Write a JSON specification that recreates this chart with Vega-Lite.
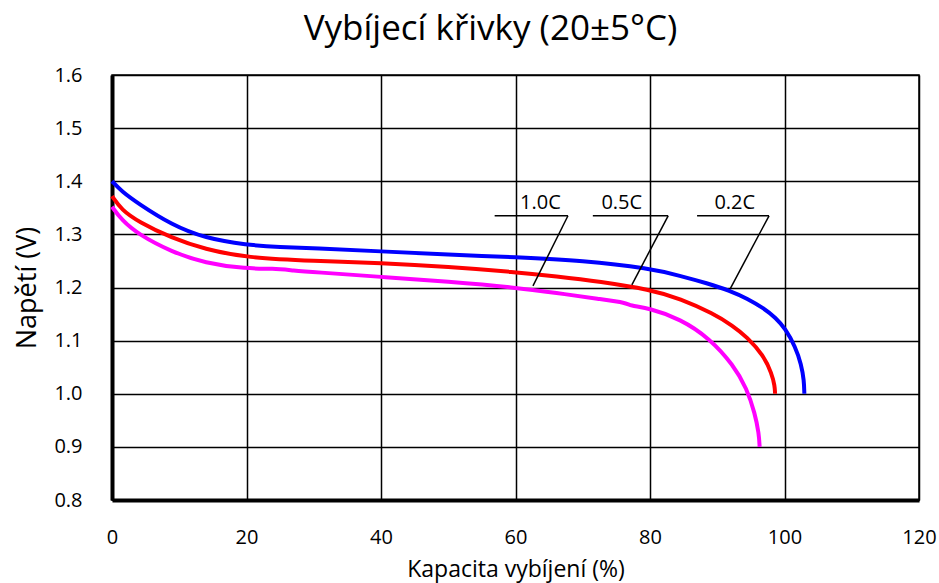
{
  "$schema": "https://vega.github.io/schema/vega-lite/v6.json",
  "width": 807,
  "height": 425,
  "autosize": {"type": "none"},
  "padding": {"left": 112, "top": 75, "right": 20, "bottom": 83},
  "background": "white",
  "title": {
    "text": "Vybíjecí křivky (20±5°C)",
    "font": "Open Sans",
    "fontSize": 35,
    "fontWeight": "normal",
    "color": "#000",
    "anchor": "middle",
    "dx": -25,
    "offset": 18
  },
  "config": {
    "view": {"stroke": "#000", "strokeWidth": 1.5},
    "axis": {
      "labelFont": "Open Sans",
      "titleFont": "Open Sans",
      "labelFontSize": 20,
      "titleFontSize": 23,
      "titleFontWeight": "normal",
      "labelColor": "#000",
      "titleColor": "#000",
      "ticks": false,
      "grid": true,
      "gridColor": "#000",
      "gridOpacity": 1,
      "gridWidth": 1.5,
      "domainColor": "#000",
      "domainWidth": 4
    }
  },
  "datasets": {
    "curves": [
      {"s": "0.2C", "x": 0, "y": 1.40},
      {"s": "0.2C", "x": 1.44, "y": 1.381},
      {"s": "0.2C", "x": 3.91, "y": 1.358},
      {"s": "0.2C", "x": 8.87, "y": 1.318},
      {"s": "0.2C", "x": 13.8, "y": 1.293},
      {"s": "0.2C", "x": 20, "y": 1.28},
      {"s": "0.2C", "x": 25, "y": 1.276},
      {"s": "0.2C", "x": 30, "y": 1.274},
      {"s": "0.2C", "x": 40, "y": 1.268},
      {"s": "0.2C", "x": 50, "y": 1.262},
      {"s": "0.2C", "x": 60, "y": 1.257},
      {"s": "0.2C", "x": 70, "y": 1.251},
      {"s": "0.2C", "x": 80, "y": 1.236},
      {"s": "0.2C", "x": 84.5, "y": 1.222},
      {"s": "0.2C", "x": 88.5, "y": 1.208},
      {"s": "0.2C", "x": 91.9, "y": 1.194},
      {"s": "0.2C", "x": 94.5, "y": 1.179},
      {"s": "0.2C", "x": 96.9, "y": 1.161},
      {"s": "0.2C", "x": 98.7, "y": 1.143},
      {"s": "0.2C", "x": 100.1, "y": 1.123},
      {"s": "0.2C", "x": 101.6, "y": 1.089},
      {"s": "0.2C", "x": 102.5, "y": 1.055},
      {"s": "0.2C", "x": 102.9, "y": 1.025},
      {"s": "0.2C", "x": 102.95, "y": 1.0},
      {"s": "0.5C", "x": 0, "y": 1.372},
      {"s": "0.5C", "x": 1.44, "y": 1.346},
      {"s": "0.5C", "x": 3.91, "y": 1.324},
      {"s": "0.5C", "x": 8.87, "y": 1.293},
      {"s": "0.5C", "x": 13.8, "y": 1.272},
      {"s": "0.5C", "x": 20, "y": 1.256},
      {"s": "0.5C", "x": 30, "y": 1.25},
      {"s": "0.5C", "x": 40, "y": 1.246},
      {"s": "0.5C", "x": 50, "y": 1.239},
      {"s": "0.5C", "x": 60, "y": 1.229},
      {"s": "0.5C", "x": 66, "y": 1.221},
      {"s": "0.5C", "x": 72.6, "y": 1.211},
      {"s": "0.5C", "x": 80, "y": 1.196},
      {"s": "0.5C", "x": 84.5, "y": 1.179},
      {"s": "0.5C", "x": 89.4, "y": 1.151},
      {"s": "0.5C", "x": 92.3, "y": 1.128},
      {"s": "0.5C", "x": 94.4, "y": 1.107},
      {"s": "0.5C", "x": 96.9, "y": 1.072},
      {"s": "0.5C", "x": 98.1, "y": 1.038},
      {"s": "0.5C", "x": 98.55, "y": 1.015},
      {"s": "0.5C", "x": 98.6, "y": 1.0},
      {"s": "1.0C", "x": 0, "y": 1.352},
      {"s": "1.0C", "x": 1.44, "y": 1.327},
      {"s": "1.0C", "x": 3.91, "y": 1.30},
      {"s": "1.0C", "x": 8.87, "y": 1.267},
      {"s": "1.0C", "x": 13.8, "y": 1.246},
      {"s": "1.0C", "x": 20, "y": 1.235},
      {"s": "1.0C", "x": 24, "y": 1.236},
      {"s": "1.0C", "x": 27, "y": 1.232},
      {"s": "1.0C", "x": 30, "y": 1.229},
      {"s": "1.0C", "x": 40, "y": 1.22},
      {"s": "1.0C", "x": 50, "y": 1.211},
      {"s": "1.0C", "x": 60, "y": 1.20},
      {"s": "1.0C", "x": 66, "y": 1.19},
      {"s": "1.0C", "x": 72.6, "y": 1.178},
      {"s": "1.0C", "x": 76.6, "y": 1.171},
      {"s": "1.0C", "x": 76.9, "y": 1.166},
      {"s": "1.0C", "x": 79.9, "y": 1.161},
      {"s": "1.0C", "x": 84.5, "y": 1.141},
      {"s": "1.0C", "x": 88.9, "y": 1.104},
      {"s": "1.0C", "x": 92.4, "y": 1.054},
      {"s": "1.0C", "x": 94.4, "y": 1.01},
      {"s": "1.0C", "x": 95.6, "y": 0.963},
      {"s": "1.0C", "x": 96.2, "y": 0.925},
      {"s": "1.0C", "x": 96.3, "y": 0.90}
    ],
    "leaders": [
      {"x": 56.9, "y": 1.335, "x2": 67.8, "y2": 1.335},
      {"x": 67.8, "y": 1.335, "x2": 62.6, "y2": 1.203},
      {"x": 71.5, "y": 1.335, "x2": 82.7, "y2": 1.335},
      {"x": 82.7, "y": 1.335, "x2": 77.3, "y2": 1.205},
      {"x": 87.0, "y": 1.335, "x2": 97.7, "y2": 1.335},
      {"x": 97.7, "y": 1.335, "x2": 91.9, "y2": 1.197}
    ],
    "labels": [
      {"label": "1.0C", "x": 63.7, "y": 1.347},
      {"label": "0.5C", "x": 75.8, "y": 1.347},
      {"label": "0.2C", "x": 92.6, "y": 1.347}
    ]
  },
  "layer": [
    {
      "data": {"name": "curves"},
      "mark": {"type": "line", "strokeWidth": 4, "interpolate": "basis", "clip": false},
      "encoding": {
        "x": {
          "field": "x", "type": "quantitative",
          "scale": {"domain": [0, 120], "nice": false},
          "axis": {"values": [0, 20, 40, 60, 80, 100, 120], "title": "Kapacita vybíjení (%)", "labelPadding": 27, "titlePadding": 11, "labelFlush": false}
        },
        "y": {
          "field": "y", "type": "quantitative",
          "scale": {"domain": [0.8, 1.6], "nice": false, "zero": false},
          "axis": {"values": [0.8, 0.9, 1.0, 1.1, 1.2, 1.3, 1.4, 1.5, 1.6], "format": ".1f", "title": "Napětí (V)", "titleFontSize": 27, "labelPadding": 30, "titlePadding": 12, "labelFlush": false}
        },
        "color": {
          "field": "s", "type": "nominal",
          "scale": {"domain": ["0.2C", "0.5C", "1.0C"], "range": ["#0000ff", "#ff0000", "#ff00ff"]},
          "legend": null
        }
      }
    },
    {
      "data": {"name": "leaders"},
      "mark": {"type": "rule", "color": "#000", "strokeWidth": 1.5},
      "encoding": {
        "x": {"field": "x", "type": "quantitative"},
        "y": {"field": "y", "type": "quantitative"},
        "x2": {"field": "x2"},
        "y2": {"field": "y2"}
      }
    },
    {
      "data": {"name": "labels"},
      "mark": {"type": "text", "font": "Open Sans", "fontSize": 20, "color": "#000", "baseline": "alphabetic", "align": "center"},
      "encoding": {
        "x": {"field": "x", "type": "quantitative"},
        "y": {"field": "y", "type": "quantitative"},
        "text": {"field": "label"}
      }
    }
  ]
}
